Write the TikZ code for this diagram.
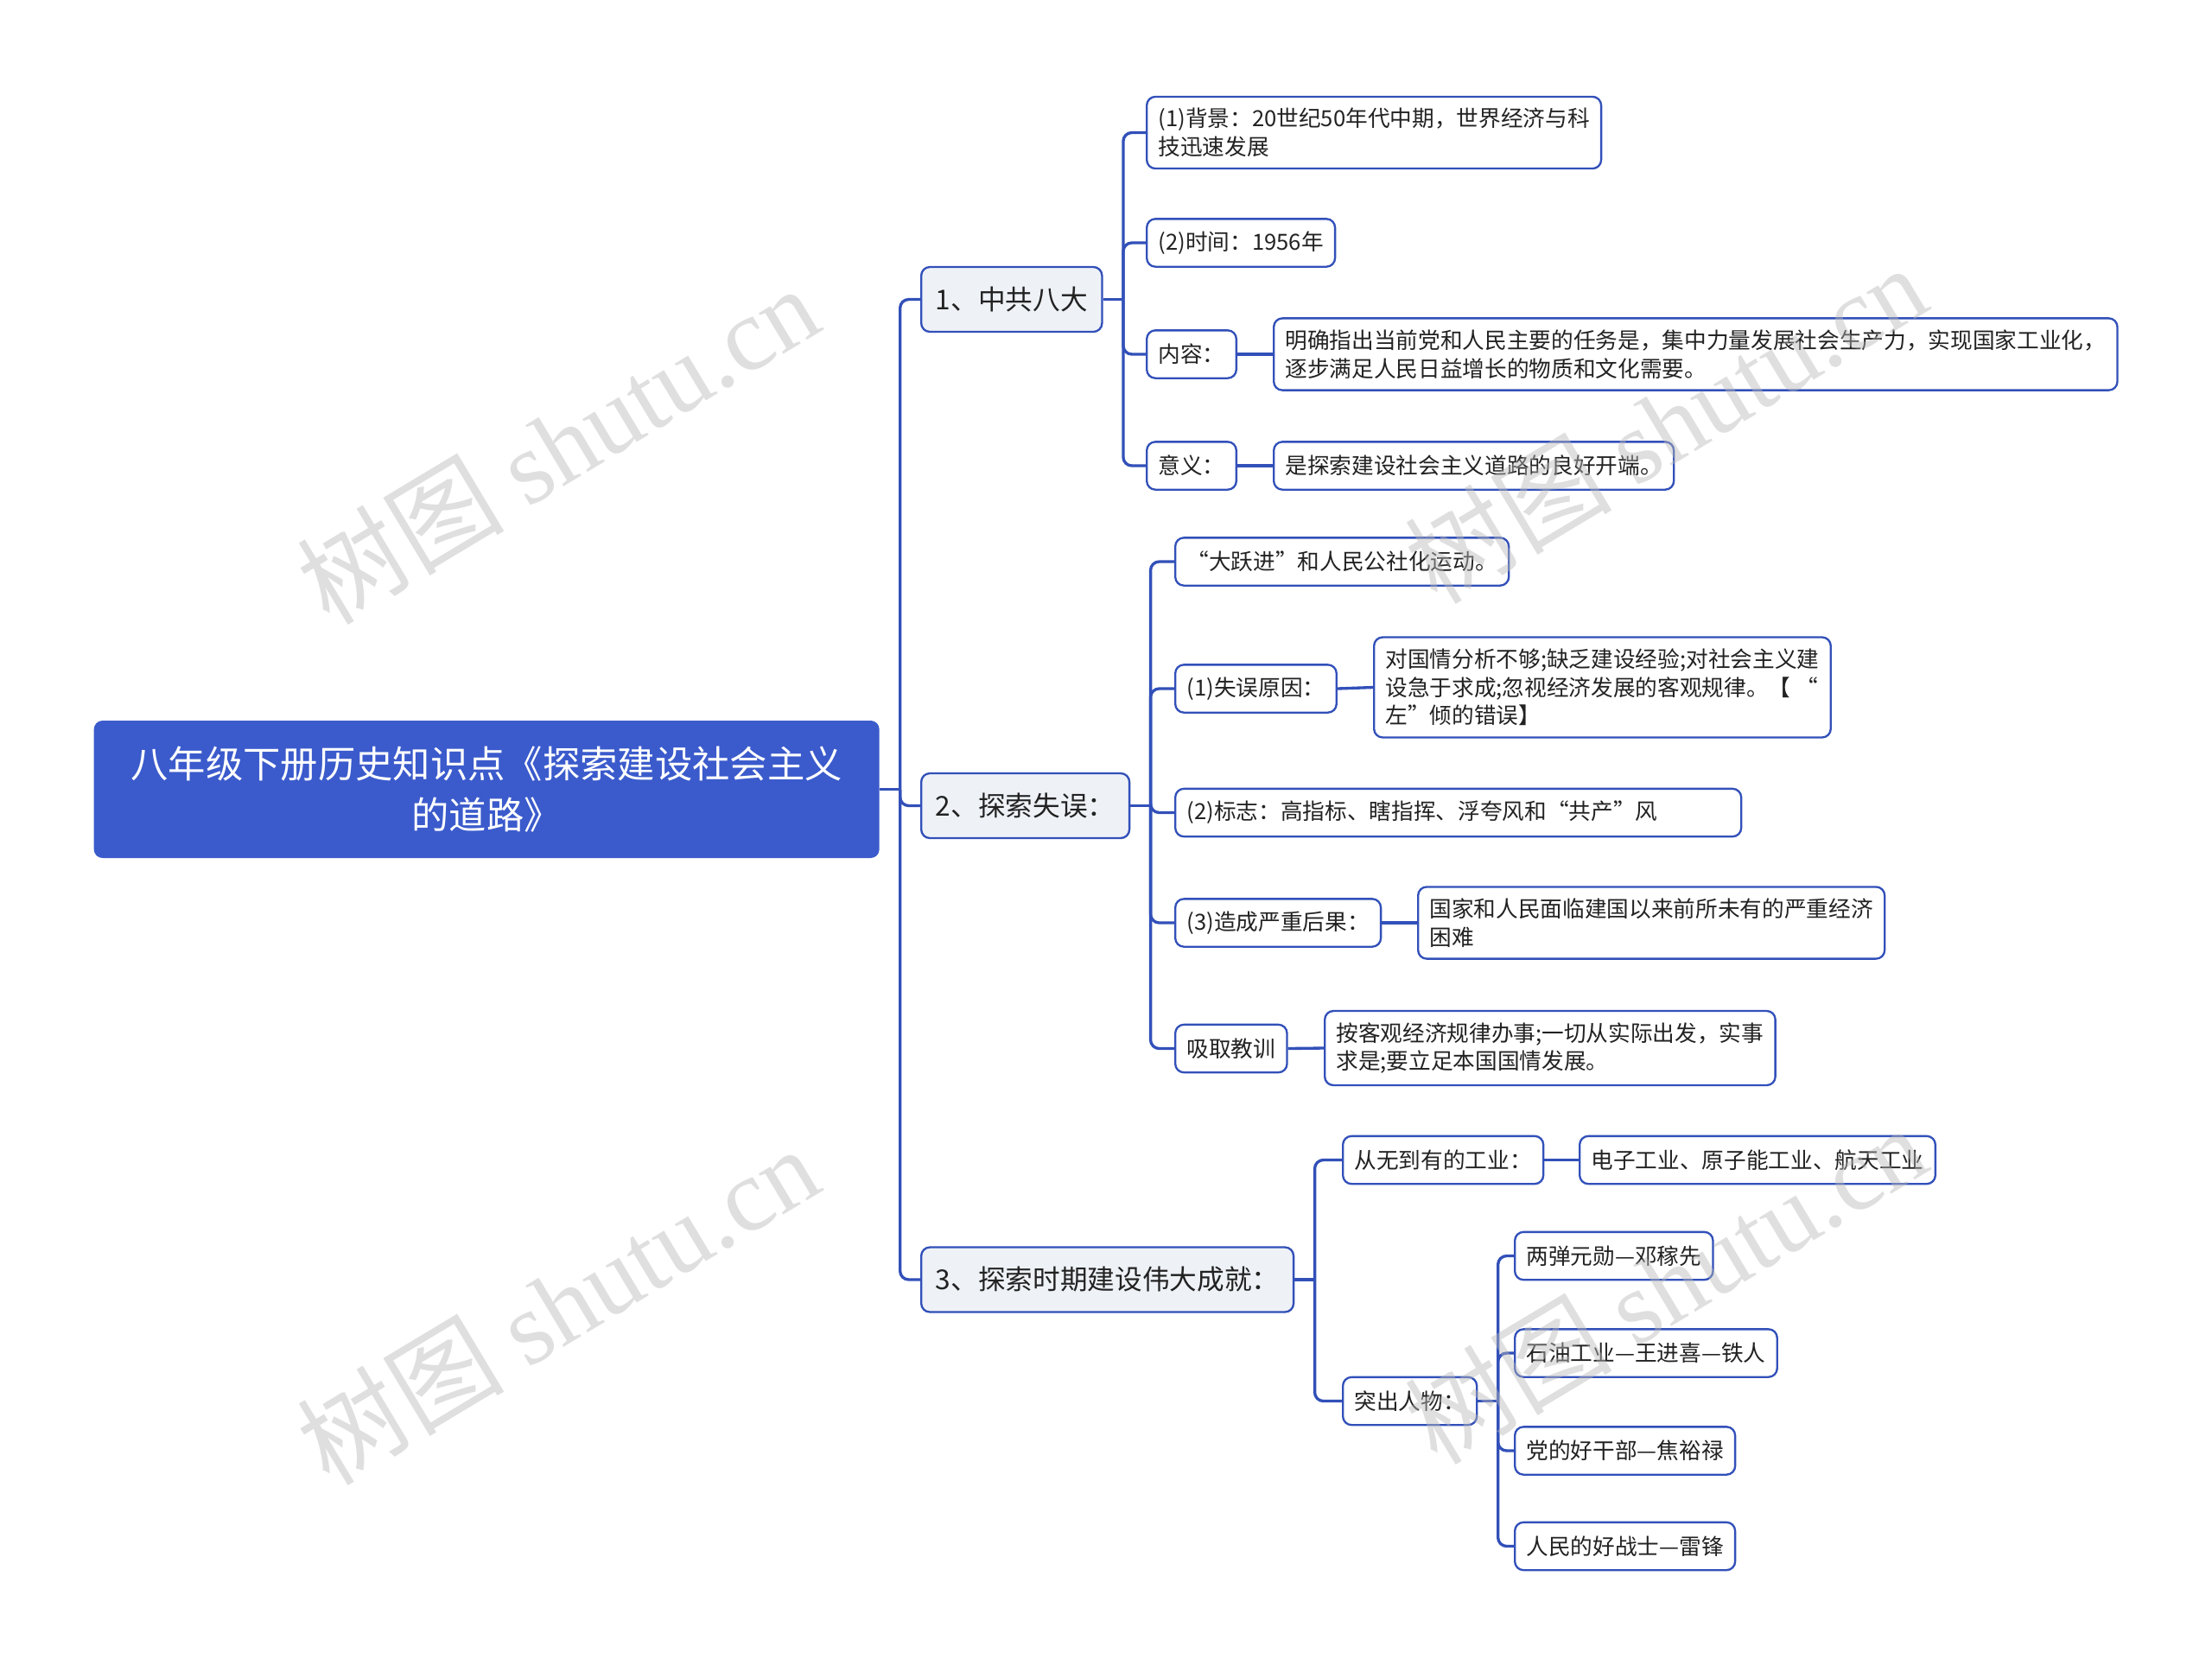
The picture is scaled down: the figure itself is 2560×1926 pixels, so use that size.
\documentclass[tikz,border=0pt]{standalone}
\usepackage{fontspec}
\setmainfont{Noto Sans CJK SC}
\newfontfamily\wmlatin{Liberation Serif}
\usetikzlibrary{positioning}
\definecolor{mapblue}{RGB}{59,91,204}
\definecolor{mapline}{RGB}{50,80,185}
\definecolor{topicgray}{RGB}{238,242,247}
\definecolor{inktext}{RGB}{34,34,34}
\definecolor{wmgray}{RGB}{185,185,185}
\tikzset{
  rootbox/.style={anchor=west,fill=mapblue,rounded corners=3pt,text=white,align=center,
    font=\fontsize{13}{17.6}\selectfont,minimum width=272.7pt,minimum height=47.7pt,inner sep=0pt},
  topicbox/.style={anchor=west,draw=mapline,line width=0.7pt,fill=topicgray,rounded corners=3pt,
    text=inktext,font=\fontsize{9.5}{12}\selectfont,inner xsep=5pt,minimum height=22.5pt},
  leafbox/.style={anchor=west,draw=mapline,line width=0.7pt,fill=white,rounded corners=3pt,
    text=inktext,align=left,font=\fontsize{7.7}{9.8}\selectfont,inner xsep=4pt,inner ysep=4pt,
    minimum height=16.6pt},
  link/.style={draw=mapline,line width=1pt,rounded corners=3pt},
  wmark/.style={text=wmgray,opacity=0.45,rotate=31,font=\fontsize{36}{36}\selectfont}
}
\begin{document}
\begin{tikzpicture}[x=0.3pt,y=-0.3pt]
  \fill[white] (0,0) rectangle (2560,1926);
  \node[rootbox] (root) at (108,913.5) {八年级下册历史知识点《探索建设社会主义\\的道路》};
  \node[topicbox] (zgbd) at (1065,346.5) {1、中共八大};
  \node[topicbox] (tssw) at (1065,932.5) {2、探索失误：};
  \node[topicbox] (cj) at (1065,1481) {3、探索时期建设伟大成就：};
  % 1
  \node[leafbox] (bj) at (1326,153.5) {(1)背景：20世纪50年代中期，世界经济与科\\技迅速发展};
  \node[leafbox] (sj) at (1326,281) {(2)时间：1956年};
  \node[leafbox] (nr) at (1326,410) {内容：};
  \node[leafbox] (nrd) at (1473,410) {明确指出当前党和人民主要的任务是，集中力量发展社会生产力，实现国家工业化，\\逐步满足人民日益增长的物质和文化需要。};
  \node[leafbox] (yy) at (1326,539) {意义：};
  \node[leafbox] (yyd) at (1473,539) {是探索建设社会主义道路的良好开端。};
  % 2
  \node[leafbox] (dyj) at (1359,650) {“大跃进”和人民公社化运动。};
  \node[leafbox] (yy1) at (1359,797) {(1)失误原因：};
  \node[leafbox] (yy1d) at (1589,795.5) {对国情分析不够;缺乏建设经验;对社会主义建\\设急于求成;忽视经济发展的客观规律。【 “\\左”倾的错误】};
  \node[leafbox,text width=188.5pt] (bz) at (1359,940.5) {(2)标志：高指标、瞎指挥、浮夸风和“共产”风};
  \node[leafbox] (hg) at (1359,1068) {(3)造成严重后果：};
  \node[leafbox] (hgd) at (1640,1068) {国家和人民面临建国以来前所未有的严重经济\\困难};
  \node[leafbox] (jx) at (1359,1213.5) {吸取教训};
  \node[leafbox] (jxd) at (1532,1213) {按客观经济规律办事;一切从实际出发，实事\\求是;要立足本国国情发展。};
  % 3
  \node[leafbox] (gy) at (1553,1342.5) {从无到有的工业：};
  \node[leafbox] (gyd) at (1827,1342.5) {电子工业、原子能工业、航天工业};
  \node[leafbox] (rw) at (1553,1621.5) {突出人物：};
  \node[leafbox] (rw1) at (1752,1453.5) {两弹元勋—邓稼先};
  \node[leafbox] (rw2) at (1752,1566) {石油工业—王进喜—铁人};
  \node[leafbox] (rw3) at (1752,1679) {党的好干部—焦裕禄};
  \node[leafbox] (rw4) at (1752,1789.5) {人民的好战士—雷锋};

  \draw[link] (root.east) -- ++(7pt,0) coordinate (jroot);
  \foreach \c in {zgbd,tssw,cj} \draw[link] (jroot) |- (\c.west);
  \draw[link] (zgbd.east) -- ++(7pt,0) coordinate (jzgbd);
  \foreach \c in {bj,sj,nr,yy} \draw[link] (jzgbd) |- (\c.west);
  \draw[link] (tssw.east) -- ++(7pt,0) coordinate (jtssw);
  \foreach \c in {dyj,yy1,bz,hg,jx} \draw[link] (jtssw) |- (\c.west);
  \draw[link] (cj.east) -- ++(7pt,0) coordinate (jcj);
  \foreach \c in {gy,rw} \draw[link] (jcj) |- (\c.west);
  \draw[link] (rw.east) -- ++(7pt,0) coordinate (jrw);
  \foreach \c in {rw1,rw2,rw3,rw4} \draw[link] (jrw) |- (\c.west);
  \foreach \a/\b in {nr/nrd,yy/yyd,yy1/yy1d,hg/hgd,jx/jxd,gy/gyd}
    \draw[link] (\a.east) -- (\b.west);

  % watermarks
  \node[wmark] (wm1) at (645,514) {树图 {\wmlatin shutu.cn}};
  \node[wmark] (wm2) at (645,1510) {树图 {\wmlatin shutu.cn}};
  \node[wmark] (wm3) at (1927,490) {树图 {\wmlatin shutu.cn}};
  \node[wmark] (wm4) at (1927,1486) {树图 {\wmlatin shutu.cn}};
\end{tikzpicture}
\end{document}
